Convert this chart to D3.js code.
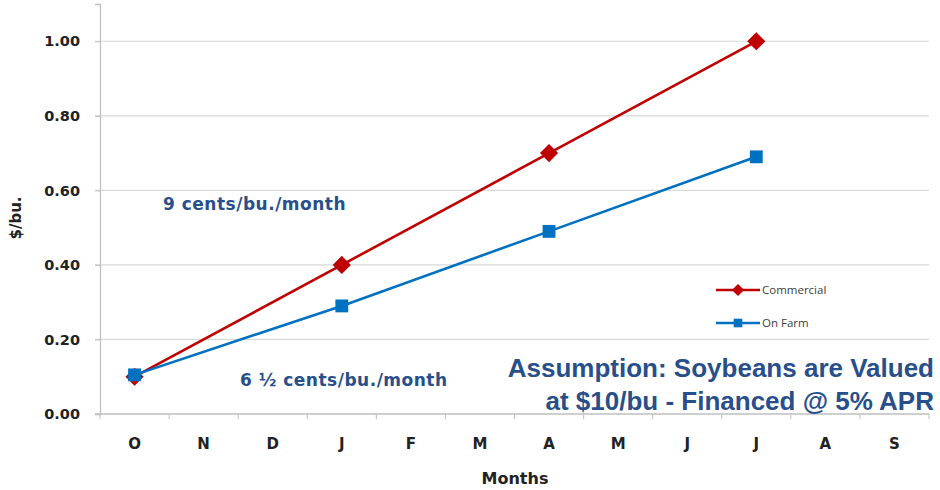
<!DOCTYPE html>
<html>
<head>
<meta charset="utf-8">
<script src="https://cdn.jsdelivr.net/npm/d3@7"></script>
<style>
  body { margin: 0; background: #fff; }
  svg { display: block; }
</style>
</head>
<body>
<div id="chart"></div>
<script>
// months Oct -> Sep
var months = ["O", "N", "D", "J", "F", "M", "A", "M", "J", "J", "A", "S"];
// null where no point is plotted
var commercial = [0.10, null, null, 0.40, null, null, 0.70, null, null, 1.00, null, null];
var onFarm = [0.105, null, null, 0.29, null, null, 0.49, null, null, 0.69, null, null];
var yTicks = [0, 0.2, 0.4, 0.6, 0.8, 1.0];

var width = 940, height = 490;
var margin = {top: 4, right: 11, bottom: 76, left: 100};
var w = width - margin.left - margin.right, h = height - margin.top - margin.bottom;

var red = "#c00000", blue = "#0070c0", textBlue = "#284f8c";
var labelFont = "'DejaVu Sans', Verdana, sans-serif";

var svg = d3.select("#chart").append("svg")
    .attr("width", width)
    .attr("height", height);

var g = svg.append("g")
    .attr("transform", "translate(" + margin.left + "," + margin.top + ")");

var x = d3.scaleBand().domain(d3.range(months.length)).range([0, w]);
var y = d3.scaleLinear().domain([0, 1.1]).range([h, 0]);

// gridlines
g.selectAll(".grid")
    .data(yTicks.slice(1))
    .enter()
    .append("line")
    .attr("x1", -5)
    .attr("x2", w)
    .attr("y1", function (d) { return y(d); })
    .attr("y2", function (d) { return y(d); })
    .attr("stroke", "#d9d9d9")
    .attr("stroke-width", 1.2);

// y axis
var yAxis = g.append("g")
    .call(d3.axisLeft(y).tickValues(yTicks).tickFormat(d3.format(".2f")).tickSize(5).tickPadding(15));
yAxis.select(".domain").attr("stroke", "#bfbfbf").attr("stroke-width", 1.3);
yAxis.selectAll(".tick line").attr("stroke", "#bfbfbf");
yAxis.selectAll("text")
    .style("font-family", labelFont)
    .style("font-weight", "bold")
    .style("font-size", "14.5px")
    .attr("fill", "#222");

// x axis with ticks on band edges
var xAxis = g.append("g").attr("transform", "translate(0," + h + ")");
xAxis.append("line")
    .attr("x1", -5).attr("x2", w)
    .attr("stroke", "#bfbfbf").attr("stroke-width", 1.3);
xAxis.selectAll(".xtick")
    .data(d3.range(months.length + 1))
    .enter()
    .append("line")
    .attr("x1", function (d) { return d * x.step(); })
    .attr("x2", function (d) { return d * x.step(); })
    .attr("y1", 0).attr("y2", 5)
    .attr("stroke", "#bfbfbf");
xAxis.selectAll(".xlabel")
    .data(months)
    .enter()
    .append("text")
    .attr("x", function (d, i) { return x(i) + x.bandwidth() / 2; })
    .attr("y", 35)
    .attr("text-anchor", "middle")
    .style("font-family", labelFont)
    .style("font-weight", "bold")
    .style("font-size", "15px")
    .attr("fill", "#222")
    .text(function (d) { return d; });

// axis titles
svg.append("text")
    .attr("x", 515).attr("y", 484)
    .attr("text-anchor", "middle")
    .style("font-family", labelFont)
    .style("font-weight", "bold")
    .style("font-size", "16px")
    .attr("fill", "#222")
    .text("Months");

svg.append("text")
    .attr("transform", "translate(21,218) rotate(-90)")
    .attr("text-anchor", "middle")
    .style("font-family", labelFont)
    .style("font-weight", "bold")
    .style("font-size", "15px")
    .attr("fill", "#222")
    .text("$/bu.");

// series; the diamond is a square turned 45 degrees
var series = [
    {name: "Commercial", values: commercial, color: red, symbol: d3.symbolSquare, rot: 45, size: 165},
    {name: "On Farm", values: onFarm, color: blue, symbol: d3.symbolSquare, rot: 0, size: 165}
];

var line = d3.line()
    .x(function (d) { return x(d.i) + x.bandwidth() / 2; })
    .y(function (d) { return y(d.v); });

series.forEach(function (s) {
    var pts = s.values
        .map(function (v, i) { return {i: i, v: v}; })
        .filter(function (d) { return d.v !== null; });

    g.append("path")
        .datum(pts)
        .attr("d", line)
        .attr("fill", "none")
        .attr("stroke", s.color)
        .attr("stroke-width", 2.6);

    g.selectAll(null)
        .data(pts)
        .enter()
        .append("path")
        .attr("d", d3.symbol().type(s.symbol).size(s.size))
        .attr("transform", function (d) {
            return "translate(" + (x(d.i) + x.bandwidth() / 2) + "," + y(d.v) + ") rotate(" + s.rot + ")";
        })
        .attr("fill", s.color);
});

// legend
var legend = svg.selectAll(".legend")
    .data(series)
    .enter()
    .append("g")
    .attr("transform", function (d, i) { return "translate(716," + (290 + i * 33) + ")"; });

legend.append("line")
    .attr("x1", 0).attr("x2", 44)
    .attr("stroke", function (d) { return d.color; })
    .attr("stroke-width", 2.6);
legend.append("path")
    .attr("d", function (d) { return d3.symbol().type(d.symbol).size(d.size * 0.45)(); })
    .attr("transform", function (d) { return "translate(22,0) rotate(" + d.rot + ")"; })
    .attr("fill", function (d) { return d.color; });
legend.append("text")
    .attr("x", 46).attr("y", 4)
    .style("font-family", "'Open Sans', sans-serif")
    .style("font-size", "11.5px")
    .attr("fill", "#404040")
    .text(function (d) { return d.name; });

// annotations
svg.append("text")
    .attr("x", 163).attr("y", 210)
    .style("font-family", labelFont)
    .style("font-weight", "bold")
    .style("font-size", "17px")
    .style("letter-spacing", "0.5px")
    .attr("fill", textBlue)
    .text("9 cents/bu./month");

svg.append("text")
    .attr("x", 240).attr("y", 386)
    .style("font-family", labelFont)
    .style("font-weight", "bold")
    .style("font-size", "17px")
    .style("letter-spacing", "0.5px")
    .attr("fill", textBlue)
    .text("6 \u00bd cents/bu./month");

var note = svg.append("text")
    .attr("text-anchor", "end")
    .style("font-family", "'Liberation Sans', Arial, sans-serif")
    .style("font-weight", "bold")
    .style("font-size", "26px")
    .attr("fill", textBlue);
note.append("tspan").attr("x", 934).attr("y", 377).text("Assumption: Soybeans are Valued");
note.append("tspan").attr("x", 934).attr("y", 410).text("at $10/bu - Financed @ 5% APR");
</script>
</body>
</html>
